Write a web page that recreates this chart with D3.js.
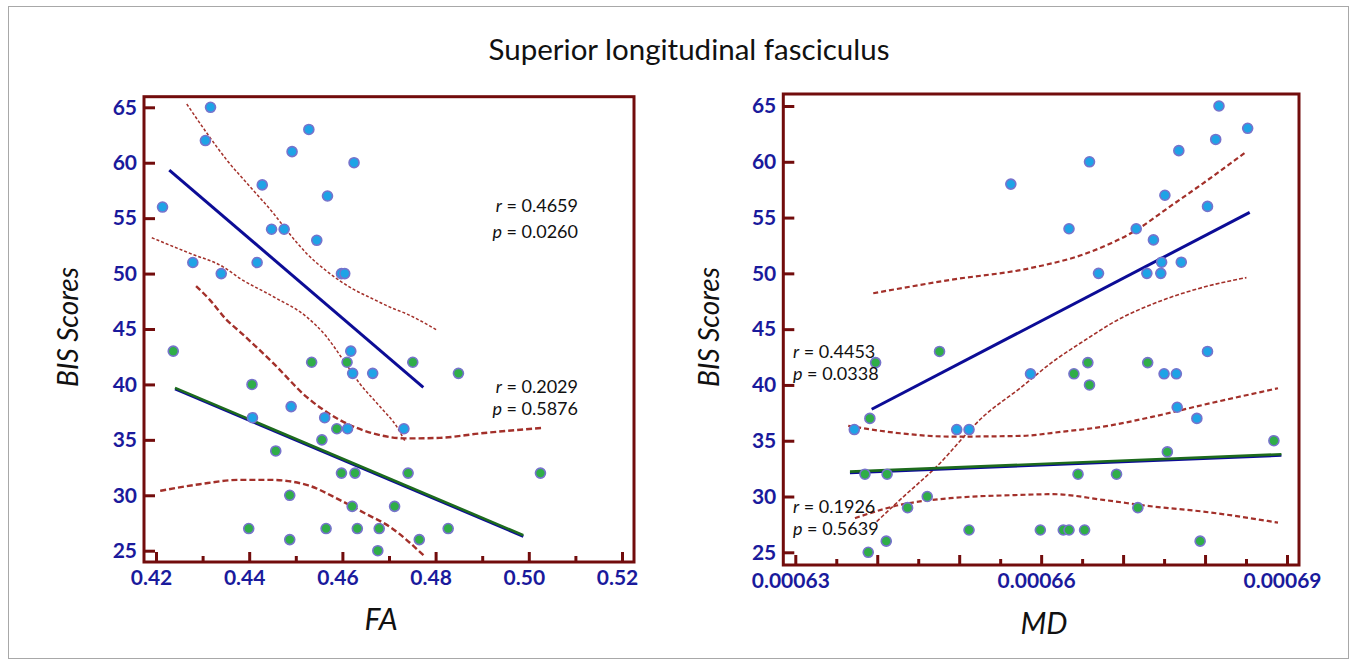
<!DOCTYPE html>
<html><head><meta charset="utf-8">
<script src="https://cdn.jsdelivr.net/npm/d3@7"></script>
<style>body{margin:0;background:#fff;}svg{display:block;font-family:Lato,"Open Sans",sans-serif;}</style>
</head><body>
<svg id="c" width="1356" height="666"></svg>
<script>
// ---------- DATA ----------
const title = "Superior longitudinal fasciculus";
const yLabel = "BIS Scores";
const yTicks = [25, 30, 35, 40, 45, 50, 55, 60, 65];

// Left panel (FA)
const faTicksMajor = [0.42, 0.44, 0.46, 0.48, 0.50, 0.52];
const faTicksMinor = [0.43, 0.45, 0.47, 0.49, 0.51];
const faBlueX = [0.4317,0.4306,0.4528,0.4492,0.4625,0.4428,0.4568,0.4214,0.4448,0.4475,0.4545,0.4279,0.4417,0.4340,0.4598,0.4605,0.4618,0.4622,0.4665,0.4490,0.4407,0.4562,0.4611,0.4732];
const faBlueY = [65,62,63,61,60,58,57,56,54,54,53,51,51,50,50,50,43,41,41,38,37,37,36,36];
const faGreenX = [0.4237,0.4534,0.4610,0.4751,0.4849,0.4406,0.4588,0.4556,0.4457,0.4598,0.4627,0.4741,0.5025,0.4487,0.4621,0.4712,0.4399,0.4565,0.4632,0.4679,0.4827,0.4487,0.4765,0.4676];
const faGreenY = [43,42,42,42,41,40,36,35,34,32,32,32,32,30,29,29,27,27,27,27,27,26,26,25];
const faBlueFit = [[0.42285,59.34],[0.47736,39.73]];
const faGreenFit = [[0.42408,39.69],[0.49882,26.40]];
const faBlueUpper = [[0.4266,65.30],[0.4309,62.68],[0.4352,60.24],[0.4402,57.83],[0.4452,55.43],[0.4480,53.93],[0.4523,51.82],[0.4566,50.23],[0.4623,48.60],[0.4666,47.70],[0.4702,46.97],[0.4739,46.34],[0.4803,44.90]];
const faBlueLower = [[0.4191,53.23],[0.4273,51.82],[0.4344,50.61],[0.4380,49.57],[0.4452,47.91],[0.4523,46.10],[0.4566,44.30],[0.4602,42.19],[0.4637,40.09],[0.4681,37.98],[0.4717,36.17],[0.4734,34.91]];
const faGreenUpper = [[0.4286,48.87],[0.4316,47.61],[0.4352,45.80],[0.4380,44.75],[0.4452,41.90],[0.4523,38.88],[0.4595,36.78],[0.4666,35.58],[0.4738,35.13],[0.4809,35.18],[0.4895,35.58],[0.5031,36.08]];
const faGreenLower = [[0.4209,30.40],[0.4294,31.00],[0.4380,31.39],[0.4445,31.39],[0.4523,30.94],[0.4595,29.56],[0.4648,28.38],[0.4702,27.15],[0.4774,24.59]];
const faStats = ["r = 0.4659", "p = 0.0260", "r = 0.2029", "p = 0.5876"];

// Right panel (MD)
const mdTicksMajor = [0.00063,0.00064,0.00065,0.00066,0.00067,0.00068,0.00069];
const mdTicksMinor = [0.000635,0.000645,0.000655,0.000665,0.000675,0.000685];
const mdTickLabels = [0.00063, 0.00066, 0.00069];
const mdBlueX = [0.0006563,0.0006817,0.0006852,0.0006813,0.0006768,0.0006659,0.0006751,0.0006803,0.0006634,0.0006716,0.0006737,0.0006747,0.0006771,0.0006670,0.0006729,0.0006746,0.0006803,0.0006587,0.0006750,0.0006765,0.0006766,0.0006790,0.0006372,0.0006497,0.0006512];
const mdBlueY = [58,65,63,62,61,60,57,56,54,54,53,51,51,50,50,50,43,41,41,41,38,37,36,36,36];
const mdGreenX = [0.0006476,0.0006398,0.0006391,0.0006385,0.0006412,0.0006461,0.0006437,0.0006512,0.0006411,0.0006389,0.0006640,0.0006657,0.0006659,0.0006730,0.0006884,0.0006754,0.0006645,0.0006692,0.0006718,0.0006599,0.0006627,0.0006634,0.0006653,0.0006794];
const mdGreenY = [43,42,37,32,32,30,29,27,26,25,41,42,40,42,35,34,32,32,29,27,27,27,27,26];
const mdBlueFit = [[0.00063932,37.82],[0.00068545,55.47]];
const mdGreenFit = [[0.00063667,32.23],[0.00068932,33.79]];
const mdBlueUpper = [[0.00063951,48.22],[0.00064887,49.41],[0.00065862,50.46],[0.00066554,51.80],[0.00067163,53.89],[0.00067570,55.98],[0.00067976,58.07],[0.00068505,60.90]];
const mdBlueLower = [[0.00063993,27.75],[0.00064277,29.70],[0.00064724,32.68],[0.00065293,37.16],[0.00065740,39.70],[0.00066146,42.10],[0.00066554,44.10],[0.00066878,45.60],[0.00067448,47.50],[0.00067976,48.75],[0.00068505,49.62]];
const mdGreenUpper = [[0.00063646,36.33],[0.00064277,35.67],[0.00064887,35.37],[0.00065740,35.43],[0.00066268,35.82],[0.00066756,36.26],[0.00067366,37.16],[0.00067976,38.21],[0.00068890,39.70]];
const mdGreenLower = [[0.00063728,28.06],[0.00064277,29.25],[0.00064887,29.85],[0.00065740,30.14],[0.00066146,30.21],[0.00066756,29.70],[0.00067366,29.10],[0.00067976,28.65],[0.00068890,27.66]];
const mdStats = ["r = 0.4453", "p = 0.0338", "r = 0.1926", "p = 0.5639"];

// ---------- STYLE ----------
const FRAME = "#720c0c", TICKTXT = "#1a1a9c", NAVY = "#0c0c96", GREEN = "#1d6b1d";
const CI = "#a3302a", PBLUE = "#1ea3e6", PGREEN = "#2fae48", PSTROKE = "#7673cc";

const svg = d3.select("#c");
svg.append("rect").attr("x", 8.5).attr("y", 6.5).attr("width", 1340).attr("height", 652)
  .attr("fill", "none").attr("stroke", "#a8a8a8").attr("stroke-width", 1);

svg.append("text").attr("x", 689).attr("y", 60).attr("text-anchor", "middle")
  .attr("font-size", 29.5).attr("fill", "#111").text(title);

function panel(cfg) {
  const g = svg.append("g");
  const x = d3.scaleLinear().domain(cfg.xDom).range(cfg.xRange);
  const y = d3.scaleLinear().domain([25, 65]).range(cfg.yRange);
  const [fx0, fx1, fy0, fy1] = cfg.frame;

  const xa = g.append("g").attr("transform", `translate(0,${fy1})`)
    .call(d3.axisBottom(x).tickValues(cfg.xMajor).tickSize(-10).tickPadding(8)
      .tickFormat(d => cfg.labelSet(d) ? cfg.fmt(d) : ""));
  xa.select(".domain").remove();
  xa.selectAll(".tick line").attr("stroke", FRAME).attr("stroke-width", 3);
  xa.selectAll(".tick text").attr("fill", TICKTXT).attr("font-size", 21).attr("font-weight", 700)
    .attr("font-family", "Lato, sans-serif").attr("dx", cfg.labelDx);
  const xm = g.append("g").attr("transform", `translate(0,${fy1})`)
    .call(d3.axisBottom(x).tickValues(cfg.xMinor).tickSize(-6).tickFormat(""));
  xm.select(".domain").remove();
  xm.selectAll(".tick line").attr("stroke", FRAME).attr("stroke-width", 3);

  const ya = g.append("g").attr("transform", `translate(${fx0},0)`)
    .call(d3.axisLeft(y).tickValues(yTicks).tickSize(-11).tickPadding(7));
  ya.select(".domain").remove();
  ya.selectAll(".tick line").attr("stroke", FRAME).attr("stroke-width", 3);
  ya.selectAll(".tick text").attr("fill", TICKTXT).attr("font-size", 21).attr("font-weight", 700)
    .attr("font-family", "Lato, sans-serif");

  g.append("rect").attr("x", fx0).attr("y", fy0).attr("width", fx1 - fx0).attr("height", fy1 - fy0)
    .attr("fill", "none").attr("stroke", FRAME).attr("stroke-width", 3);

  const line = d3.line().x(d => x(d[0])).y(d => y(d[1])).curve(d3.curveMonotoneX);

  cfg.cis.forEach(c => {
    g.append("path").attr("d", line(c.data)).attr("fill", "none").attr("stroke", CI)
      .attr("stroke-width", c.w).attr("stroke-dasharray", c.dash);
  });

  const straight = d3.line().x(d => x(d[0])).y(d => y(d[1]));
  g.append("path").attr("d", straight(cfg.greenFit)).attr("transform", "translate(0,1.3)")
    .attr("stroke", NAVY).attr("stroke-width", 2.6).attr("fill", "none");
  g.append("path").attr("d", straight(cfg.greenFit))
    .attr("stroke", GREEN).attr("stroke-width", 2.6).attr("fill", "none");
  g.append("path").attr("d", straight(cfg.blueFit))
    .attr("stroke", NAVY).attr("stroke-width", 3).attr("fill", "none");

  const pts = (xs, ys, fill) => g.append("g").selectAll("circle").data(xs).join("circle")
    .attr("cx", d => x(d)).attr("cy", (d, i) => y(ys[i])).attr("r", 5)
    .attr("fill", fill).attr("stroke", PSTROKE).attr("stroke-width", 1.6);
  pts(cfg.greenX, cfg.greenY, PGREEN);
  pts(cfg.blueX, cfg.blueY, PBLUE);

  cfg.statPos.forEach((p, i) => {
    const s = cfg.stats[i];
    const t = g.append("text").attr("x", p[0]).attr("y", p[1]).attr("text-anchor", p[2])
      .attr("font-size", 18).attr("fill", "#111");
    t.append("tspan").attr("font-style", "italic").text(s[0]);
    t.append("tspan").text(s.slice(1));
  });

  svg.append("text").attr("transform", `translate(${cfg.yTitle[0]},${cfg.yTitle[1]}) rotate(-90)`)
    .attr("text-anchor", "middle").attr("font-size", 28).attr("font-style", "italic")
    .attr("fill", "#111").text(yLabel);
  svg.append("text").attr("x", cfg.xTitle[0]).attr("y", cfg.xTitle[1]).attr("text-anchor", "middle")
    .attr("font-size", 30).attr("font-style", "italic").attr("fill", "#111").text(cfg.xLabel);
}

panel({
  xDom: [0.42, 0.52], xRange: [156, 622], yRange: [550.7, 107.3],
  frame: [144, 634, 96.7, 562],
  xMajor: faTicksMajor, xMinor: faTicksMinor, labelSet: () => true, fmt: d3.format(".2f"), labelDx: -5,
  blueX: faBlueX, blueY: faBlueY, greenX: faGreenX, greenY: faGreenY,
  blueFit: faBlueFit, greenFit: faGreenFit,
  cis: [
    {data: faBlueUpper, w: 1.5, dash: "3,2"},
    {data: faBlueLower, w: 1.5, dash: "3,2"},
    {data: faGreenUpper, w: 2.4, dash: "6,3"},
    {data: faGreenLower, w: 2.4, dash: "6,3"}
  ],
  stats: faStats, statPos: [[578, 212, "end"], [578, 238, "end"], [578, 393, "end"], [578, 415, "end"]],
  yTitle: [78, 327], xTitle: [381, 630], xLabel: "FA"
});

panel({
  xDom: [0.00063, 0.00069], xRange: [795.3, 1287], yRange: [552.3, 106],
  frame: [783.3, 1299, 94, 565],
  xMajor: mdTicksMajor, xMinor: mdTicksMinor,
  labelSet: d => mdTickLabels.some(v => Math.abs(v - d) < 1e-9), fmt: d3.format(".5f"), labelDx: -5,
  blueX: mdBlueX, blueY: mdBlueY, greenX: mdGreenX, greenY: mdGreenY,
  blueFit: mdBlueFit, greenFit: mdGreenFit,
  cis: [
    {data: mdBlueUpper, w: 2.2, dash: "5,3"},
    {data: mdBlueLower, w: 1.6, dash: "4,2"},
    {data: mdGreenUpper, w: 2.2, dash: "5,3"},
    {data: mdGreenLower, w: 2.2, dash: "5,3"}
  ],
  stats: mdStats, statPos: [[793, 358, "start"], [793, 380, "start"], [793, 513, "start"], [793, 535, "start"]],
  yTitle: [719, 327], xTitle: [1044, 634], xLabel: "MD"
});
</script>
</body></html>
